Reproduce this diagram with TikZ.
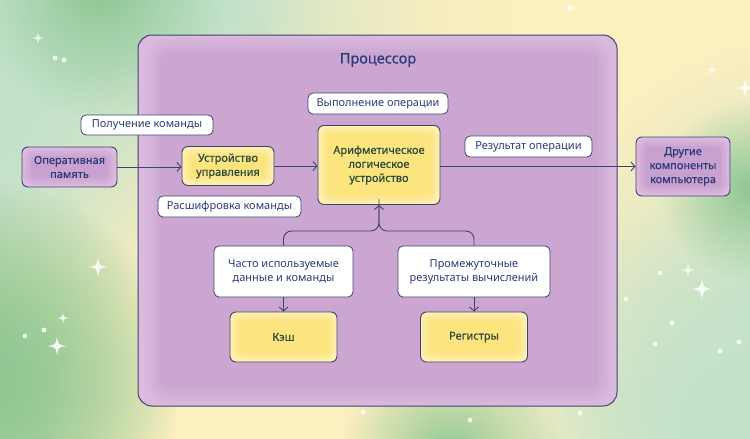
\documentclass[tikz,border=0pt]{standalone}
\usepackage{fontspec}
\setmainfont{Noto Sans}
\newfontfamily\medfont[FakeBold=0.6]{Noto Sans}
\usetikzlibrary{arrows.meta,fadings}
\tikzfading[name=blobfade, inner color=transparent!0, outer color=transparent!100]
\definecolor{bgmint}{HTML}{C3E2CC}
\definecolor{bgyellow}{HTML}{FDF0C0}
\definecolor{bggreen}{HTML}{8FC793}
\definecolor{edge}{HTML}{3E4470}
\definecolor{labtext}{HTML}{2C3C78}
\definecolor{ytext}{HTML}{2C4A3C}
\definecolor{ylight}{HTML}{FFF1B2}
\definecolor{yinner}{HTML}{FCE47F}
\definecolor{plight}{HTML}{DDBDE0}
\definecolor{pinner}{HTML}{C9A1D0}
\definecolor{procouter}{HTML}{DBBADE}
\definecolor{procinner}{HTML}{CBA6D1}
\tikzset{
  arr/.style={draw=edge, line width=0.9pt, -{Straight Barb[length=4pt,width=9pt,line width=0.9pt]}},
  conn/.style={draw=edge, line width=0.9pt},
  labelbox/.style={draw=edge, line width=0.8pt, fill=white, rounded corners=5pt, text=labtext,
    font=\fontsize{11}{14}\selectfont, align=center, inner sep=0pt},
  yellowbox/.style={draw=edge, line width=0.9pt, rounded corners=6pt, fill=ylight, text=ytext,
    font=\medfont\fontsize{11}{14}\selectfont, align=center, inner sep=0pt,
    path picture={
      \foreach \w/\o in {16/0.2,11/0.3,6/0.4}{
        \draw[yinner, line width=\w pt, opacity=\o, rounded corners=4pt]
          ([shift={(9pt,-9pt)}]path picture bounding box.north west) rectangle
          ([shift={(-9pt,9pt)}]path picture bounding box.south east);}
      \fill[yinner, rounded corners=4pt]
          ([shift={(9pt,-9pt)}]path picture bounding box.north west) rectangle
          ([shift={(-9pt,9pt)}]path picture bounding box.south east);
    }},
  purplebox/.style={draw=edge, line width=0.9pt, rounded corners=6pt, fill=plight, text=labtext,
    font=\medfont\fontsize{11}{14}\selectfont, align=center, inner sep=0pt,
    path picture={
      \foreach \w/\o in {16/0.2,11/0.3,6/0.4}{
        \draw[pinner, line width=\w pt, opacity=\o, rounded corners=4pt]
          ([shift={(9pt,-9pt)}]path picture bounding box.north west) rectangle
          ([shift={(-9pt,9pt)}]path picture bounding box.south east);}
      \fill[pinner, rounded corners=4pt]
          ([shift={(9pt,-9pt)}]path picture bounding box.north west) rectangle
          ([shift={(-9pt,9pt)}]path picture bounding box.south east);
    }},
  sparkle/.pic={\fill[white, opacity=0.85] (0,-1) .. controls (0.12,-0.12) .. (1,0)
     .. controls (0.12,0.12) .. (0,1) .. controls (-0.12,0.12) .. (-1,0)
     .. controls (-0.12,-0.12) .. cycle;}
}
\begin{document}
\begin{tikzpicture}[x=1pt,y=-1pt]
\useasboundingbox (0,0) rectangle (750,439);
% background
\begin{scope}
\clip (0,0) rectangle (750,439);
\fill[bgmint] (0,0) rectangle (750,439);
\foreach \i in {1,2,3}{
  \fill[bgyellow, path fading=blobfade] (270,460) circle (440pt);
  \fill[bgyellow, path fading=blobfade] (200,430) circle (300pt);
  \fill[bgyellow, path fading=blobfade] (640,10) circle (400pt);
  \fill[bgyellow, path fading=blobfade] (680,30) circle (280pt);
}
\fill[bgmint, path fading=blobfade] (800,300) circle (260pt);
\fill[bgmint, path fading=blobfade] (0,130) circle (220pt);
\fill[bgmint, path fading=blobfade] (740,440) circle (240pt);
\foreach \i in {1,2}{
  \fill[bggreen, path fading=blobfade] (-20,380) circle (200pt);
}
\fill[bggreen, path fading=blobfade] (100,-10) circle (130pt);
\fill[bggreen, path fading=blobfade] (450,455) circle (110pt);
\fill[bggreen, path fading=blobfade] (750,190) circle (90pt);
\end{scope}
% sparkles
\pic[scale=6] at (38,38) {sparkle};
\pic[scale=10] at (98,267) {sparkle};
\pic[scale=6] at (63,318) {sparkle};
\pic[scale=10] at (57,346) {sparkle};
\pic[scale=6] at (570,8) {sparkle};
\pic[scale=6] at (712,70) {sparkle};
\pic[scale=10] at (745,88) {sparkle};
\pic[scale=7] at (688,270) {sparkle};
\pic[scale=11] at (702,289) {sparkle};
\foreach \p in {(55,58),(64,60),(25,336),(44,330),(660,273),(626,299),(672,323),(655,344),(739,342),(720,351),(580,413),(363,412),(470,420)}
  \fill[white, opacity=0.8] \p circle (2.5pt);
% processor box
\fill[procouter, rounded corners=14pt] (138,35) rectangle (617,406);
\foreach \w/\o in {30/0.15,22/0.2,14/0.3,7/0.4}
  \draw[procinner, line width=\w pt, opacity=\o, rounded corners=10pt] (160,52) rectangle (598,390);
\fill[procinner, rounded corners=10pt] (160,52) rectangle (598,390);
\draw[edge, line width=1pt, rounded corners=14pt] (138,35) rectangle (617,406);
\node[text=labtext, font=\medfont\fontsize{14.5}{16}\selectfont] (title) at (378,60) {Процессор};
% nodes
\node[purplebox, minimum width=95pt, minimum height=40pt] (ram) at (69.5,167) {Оперативная\\память};
\node[yellowbox, minimum width=92pt, minimum height=39pt] (cu) at (228,166) {Устройство\\управления};
\node[yellowbox, minimum width=122pt, minimum height=79pt] (alu) at (379,165) {Арифметическое\\логическое\\устройство};
\node[purplebox, minimum width=94pt, minimum height=59pt] (other) at (683,166.5) {Другие\\компоненты\\компьютера};
\node[yellowbox, minimum width=107pt, minimum height=50pt] (cache) at (283.5,337) {Кэш};
\node[yellowbox, minimum width=107pt, minimum height=50pt] (reg) at (474,337) {Регистры};
\node[labelbox, minimum width=132pt, minimum height=20pt] (l1) at (147,125) {Получение команды};
\node[labelbox, minimum width=143pt, minimum height=21pt] (l2) at (229.5,206.5) {Расшифровка команды};
\node[labelbox, minimum width=140pt, minimum height=21pt] (l3) at (378,103.5) {Выполнение операции};
\node[labelbox, minimum width=127pt, minimum height=21pt] (l4) at (528.5,146.5) {Результат операции};
\node[labelbox, minimum width=139pt, minimum height=51pt] (l5) at (283.5,271.5) {Часто используемые\\данные и команды};
\node[labelbox, minimum width=152pt, minimum height=51pt] (l6) at (474,271.5) {Промежуточные\\результаты вычислений};
% connectors
\draw[arr] (ram.east) -- (ram.east -| cu.west);
\draw[arr] (cu.east) -- (cu.east -| alu.west);
\draw[arr] (alu.east |- other.west) -- (other.west);
\coordinate (j) at (alu.south |- 0,231);
\draw[conn, rounded corners=8pt] (l6.north) |- (j) -- ([yshift=6pt]alu.south);
\draw[arr, rounded corners=8pt] (l5.north) |- (j) -- (alu.south);
\draw[arr] (l5.south) -- (cache.north);
\draw[arr] (l6.south) -- (reg.north);
\end{tikzpicture}
\end{document}
